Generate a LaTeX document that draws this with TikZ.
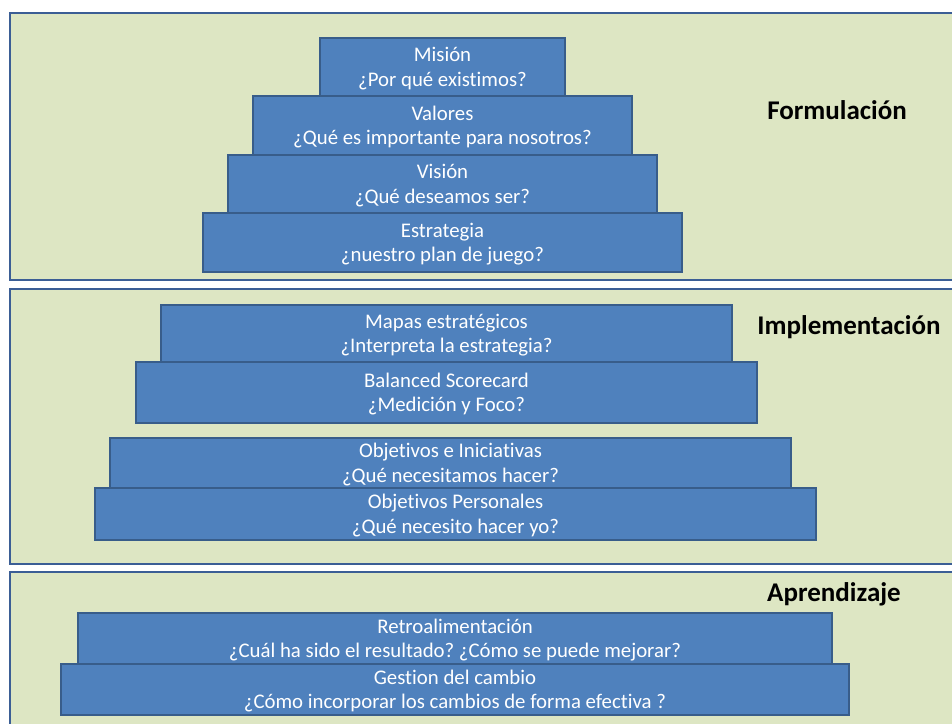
\documentclass[tikz,border=0pt]{standalone}
\usepackage{fontspec}
\setmainfont{Carlito}[Ligatures=NoCommon]
\frenchspacing
\begin{document}
\begin{tikzpicture}[x=1pt,y=-1pt,
  panel/.style={draw=panelblue,fill=panelgreen,line width=2.2pt},
  tier/.style={draw=tierline,fill=tierfill,line width=1.6pt},
  tiertext/.style={text=white,font=\fontsize{20.8}{24.5}\selectfont,align=center,yshift=-1.5pt},
  stage/.style={font=\fontsize{27}{30}\selectfont\bfseries,text=black}]
\definecolor{panelblue}{HTML}{3B5E95}
\definecolor{panelgreen}{HTML}{DDE6C3}
\definecolor{tierfill}{HTML}{4F81BD}
\definecolor{tierline}{HTML}{385D8A}
\useasboundingbox (0,0) rectangle (952,723);
\begin{scope}
\clip (0,0) rectangle (952,723);
\fill[white] (0,0) rectangle (952,723);
% three stage panels
\draw[panel] (10,13) rectangle (970,280);
\draw[panel] (10,289) rectangle (970,564);
\draw[panel] (10,572) rectangle (970,740);

% Formulación tiers
\draw[tier] (320,38) rectangle (565,96) node[midway,tiertext] (mision) {Misión\\¿Por qué existimos?};
\draw[tier] (253,96) rectangle (632,155) node[midway,tiertext] (valores) {Valores\\¿Qué es importante para nosotros?};
\draw[tier] (228,155) rectangle (657,213) node[midway,tiertext] (vision) {Visión\\¿Qué deseamos ser?};
\draw[tier] (203,213) rectangle (682,272) node[midway,tiertext] (estrategia) {Estrategia\\¿nuestro plan de juego?};

% Implementación tiers
\draw[tier] (161,305) rectangle (732,362) node[midway,tiertext] (mapas) {Mapas estratégicos\\¿Interpreta la estrategia?};
\draw[tier] (136,362) rectangle (757,423) node[midway,tiertext] (bsc) {Balanced Scorecard\\¿Medición y Foco?};
\draw[tier] (110,438) rectangle (791,488) node[midway,tiertext] (objini) {Objetivos e Iniciativas\\¿Qué necesitamos hacer?};
\draw[tier] (95,488) rectangle (816,540) node[midway,tiertext] (objper) {Objetivos Personales\\¿Qué necesito hacer yo?};

% Aprendizaje tiers
\draw[tier] (78,613) rectangle (832,664) node[midway,tiertext] (retro) {Retroalimentación\\¿Cuál ha sido el resultado? ¿Cómo se puede mejorar?};
\draw[tier] (61,664) rectangle (849,715) node[midway,tiertext] (gestion) {Gestion del cambio\\¿Cómo incorporar los cambios de forma efectiva ?};

% stage labels
\node[stage] (formulacion) at (837,110) {Formulación};
\node[stage] (implementacion) at (849,327) {Implementación};
\node[stage] (aprendizaje) at (834,594) {Aprendizaje};
\end{scope}
\end{tikzpicture}
\end{document}
